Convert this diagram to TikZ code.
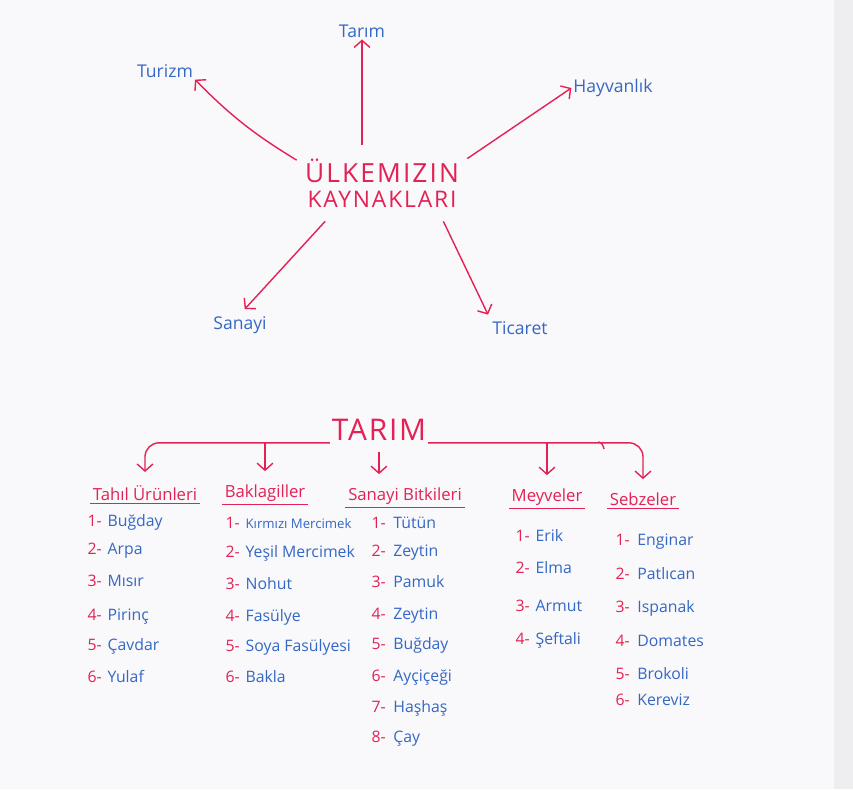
\documentclass[tikz,border=0pt]{standalone}
\usepackage{fontspec}
\setmainfont{Open Sans}
\usetikzlibrary{arrows.meta, positioning, calc}

\definecolor{kirmizi}{RGB}{226,34,84}
\definecolor{mavi}{RGB}{52,104,196}
\definecolor{kagit}{RGB}{249,248,251}
\definecolor{kenar}{RGB}{238,237,240}

\tikzset{
  ok/.style={draw=kirmizi, line width=0.8pt, -{Straight Barb[length=4pt,width=9pt]}},
  cizgi/.style={draw=kirmizi, line width=0.8pt},
  kaynak/.style={text=mavi, font=\fontsize{10}{12}\selectfont, inner sep=1pt},
  baslik/.style={text=kirmizi, font=\fontsize{9.5}{11}\selectfont, inner sep=1.5pt},
  numara/.style={text=kirmizi, font=\fontsize{9}{11}\selectfont, inner sep=0pt, anchor=base east},
  madde/.style={text=mavi, font=\fontsize{9}{11}\selectfont, inner sep=0pt},
}

\begin{document}
\begin{tikzpicture}[x=0.02cm, y=-0.02cm]
    % kagit
    \fill[kenar] (0,0) rectangle (853,789);
    \fill[kagit] (0,0) rectangle (834,789);
    \useasboundingbox (0,0) rectangle (853,789);

    % (a) ulkemizin kaynaklari
    \node[text=kirmizi, align=center, inner sep=0pt, minimum width=3.4cm, minimum height=1.52cm]
      (merkez) at (382,183)
      {{\fontsize{15}{17}\selectfont\addfontfeature{LetterSpace=8}ÜLKEMIZIN}\\[2pt]
       {\fontsize{13}{15}\selectfont\addfontfeature{LetterSpace=8}KAYNAKLARI}};
    \node[kaynak] (tarim)   at (362,31)  {Tarım};
    \node[kaynak] (turizm)  at (165,71)  {Turizm};
    \node[kaynak] (hayvan)  at (613,88)  {Hayvanlık};
    \node[kaynak] (sanayi)  at (240,325) {Sanayi};
    \node[kaynak] (ticaret) at (520,328) {Ticaret};

    \draw[ok] (merkez.north -| tarim) -- (tarim.south);
    \draw[ok] (merkez.165) to[bend left=7] (turizm.south east);
    \draw[ok] (merkez.16) -- (hayvan.west);
    \draw[ok, shorten >=4pt] (merkez.-146) -- (sanayi.north);
    \draw[ok, shorten >=3pt] (merkez.-32) -- (ticaret.north west);

    % (b) tarim
    \node[text=kirmizi, inner sep=1pt, font=\fontsize{17}{20}\selectfont\addfontfeature{LetterSpace=6}]
      (tarimB) at (379,430) {TARIM};
    \node[baslik] (tahil)   at (145,493) {Tahıl Ürünleri};
    \node[baslik] (bakla)   at (265,493) {Baklagiller};
    \node[baslik] (endB)    at (405,496) {Sanayi Bitkileri};
    \node[baslik] (meyve)   at (547,497) {Meyveler};
    \node[baslik] (sebze)   at (643,499) {Sebzeler};

    \draw[ok, rounded corners=8pt, shorten >=6pt] (tarimB.south west) -| (tahil.north);
    \draw[ok, shorten >=6pt] (bakla.north |- tarimB.south) -- (bakla.north);
    \draw[ok, shorten <=5pt, shorten >=6pt] (tarimB.south) -- (tarimB.south |- endB.north);
    \draw[ok, rounded corners=8pt, shorten >=6pt] (tarimB.south east) -| (sebze.north);
    \draw[ok, shorten >=6pt] (meyve.north |- tarimB.south east) -- (meyve.north);
    \draw[cizgi] (598,442) to[out=0, in=100] (604,449);

    % alti cizgiler
    \foreach \b in {tahil, bakla, endB, meyve, sebze} {
        \draw[cizgi] (\b.south west) -- (\b.south east);
      }

    % maddeler
    \foreach \y/\t [count=\i] in {526/Buğday, 554/Arpa, 586/Mısır, 620/Pirinç, 650/Çavdar, 682/Yulaf} {
        \node[numara] (tahilN\i) at (102,\y) {\i-};
        \node[madde, right=3pt of tahilN\i.base east, anchor=base west] (tahilM\i) {\t};
      }
    \foreach \y/\t [count=\i] in {528/{\fontsize{7.5}{9}\selectfont Kırmızı Mercimek}, 557/Yeşil Mercimek, 589/Nohut, 621/Fasülye, 651/Soya Fasülyesi, 682/Bakla} {
        \node[numara] (baklaN\i) at (240,\y) {\i-};
        \node[madde, right=3pt of baklaN\i.base east, anchor=base west] (baklaM\i) {\t};
      }
    \foreach \y/\t [count=\i] in {528/Tütün, 556/Zeytin, 587/Pamuk, 619/Zeytin, 649/Buğday, 681/Ayçiçeği, 712/Haşhaş, 742/Çay} {
        \node[numara] (endN\i) at (386,\y) {\i-};
        \node[madde, right=4pt of endN\i.base east, anchor=base west] (endM\i) {\t};
      }
    \foreach \y/\t [count=\i] in {541/Erik, 573/Elma, 611/Armut, 644/Şeftali} {
        \node[numara] (meyveN\i) at (530,\y) {\i-};
        \node[madde, right=3pt of meyveN\i.base east, anchor=base west] (meyveM\i) {\t};
      }
    \foreach \y/\t [count=\i] in {545/Enginar, 579/Patlıcan, 612/Ispanak, 646/Domates, 679/Brokoli, 705/Kereviz} {
        \node[numara] (sebzeN\i) at (630,\y) {\i-};
        \node[madde, right=4pt of sebzeN\i.base east, anchor=base west] (sebzeM\i) {\t};
      }
  \end{tikzpicture}
\end{document}
